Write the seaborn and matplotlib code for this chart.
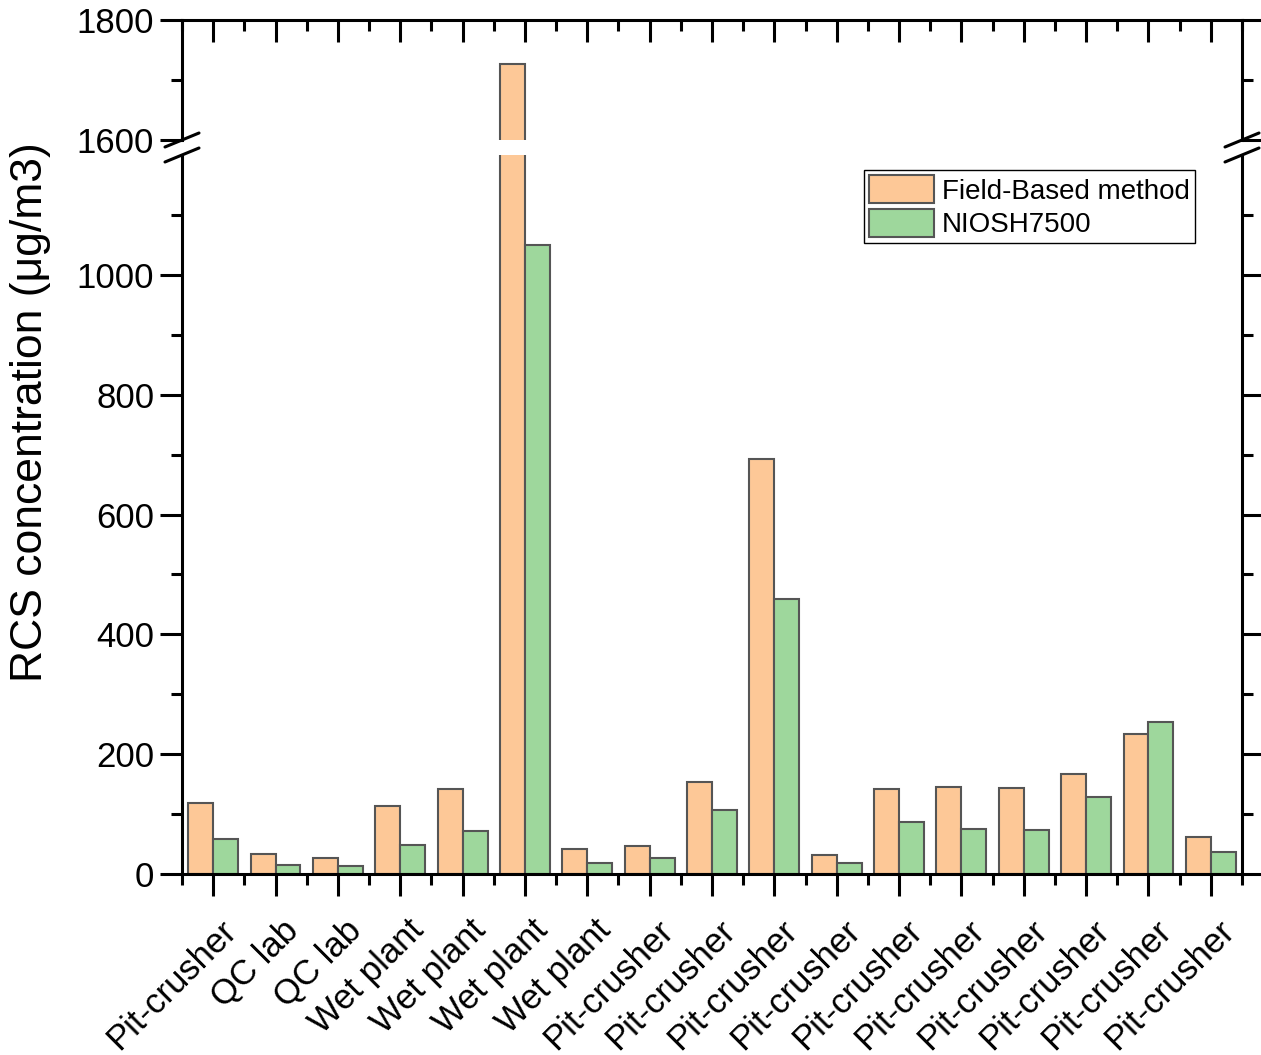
import matplotlib
matplotlib.use("Agg")
import matplotlib.pyplot as plt
import matplotlib.transforms as mtransforms
import seaborn as sns
import pandas as pd
from matplotlib.lines import Line2D

# ---------------- data ----------------
locations = ["Pit-crusher", "QC lab", "QC lab", "Wet plant", "Wet plant", "Wet plant",
             "Wet plant", "Pit-crusher", "Pit-crusher", "Pit-crusher", "Pit-crusher",
             "Pit-crusher", "Pit-crusher", "Pit-crusher", "Pit-crusher", "Pit-crusher",
             "Pit-crusher"]
field_based = [118, 33, 27, 113, 142, 1727, 41, 46, 154, 692, 32, 142, 146, 143, 167, 234, 62]
niosh7500 = [59, 15, 14, 48, 72, 1049, 19, 26, 106, 459, 18, 87, 75, 74, 129, 253, 36]
methods = ["Field-Based method", "NIOSH7500"]
samples = [f"S{i+1}" for i in range(len(locations))]

df = pd.DataFrame({
    "sample": samples * 2,
    "method": [methods[0]] * len(samples) + [methods[1]] * len(samples),
    "value": field_based + niosh7500,
})

palette = {methods[0]: "#FDC897", methods[1]: "#9ED79C"}
edge = "#555555"

# ---------------- style ----------------
sns.set_style("white")
plt.rcParams["font.family"] = ["Liberation Sans", "DejaVu Sans"]
plt.rcParams["text.color"] = "black"
plt.rcParams["xtick.color"] = "black"
plt.rcParams["ytick.color"] = "black"
plt.rcParams["axes.labelcolor"] = "black"

W, H = 1261, 1055
fig = plt.figure(figsize=(W / 100, H / 100), dpi=100)
L = 182 / W
AW = 1060 / W
ax_lo = fig.add_axes([L, 1 - 874 / H, AW, 719 / H])
ax_hi = fig.add_axes([L, 1 - 140 / H, AW, 120 / H])

for ax in (ax_lo, ax_hi):
    sns.barplot(data=df, x="sample", y="value", hue="method", order=samples,
                hue_order=methods, palette=palette, edgecolor=edge, linewidth=1.5,
                saturation=1, width=0.8, ax=ax, legend=(ax is ax_lo))
    ax.set_xlim(-0.5, len(samples) - 0.5)
    ax.set_xlabel("")
    ax.set_ylabel("")
    for s in ax.spines.values():
        s.set_linewidth(2.2)
        s.set_color("black")

ax_lo.set_ylim(0, 1200)
ax_hi.set_ylim(1600, 1800)

tick_fs = 25
# lower axes
ax_lo.spines["top"].set_visible(False)
ax_lo.set_yticks([0, 200, 400, 600, 800, 1000])
ax_lo.set_yticks([100, 300, 500, 700, 900, 1100], minor=True)
ax_lo.set_xticks(range(len(samples)))
ax_lo.set_xticks([i - 0.5 for i in range(len(samples) + 1)], minor=True)
ax_lo.set_xticklabels(locations, rotation=45, ha="right", va="center",
                      rotation_mode="anchor", fontsize=tick_fs, color="black")
ax_lo.tick_params(axis="x", which="both", direction="out", bottom=True, top=False,
                  width=2.2, pad=21)
ax_lo.tick_params(axis="x", which="major", length=16)
ax_lo.tick_params(axis="x", which="minor", length=8)
ax_lo.tick_params(axis="y", which="both", direction="out", left=True, right=True,
                  labelright=False, width=2.2, labelsize=tick_fs, pad=4)
ax_lo.tick_params(axis="y", which="major", length=16)
ax_lo.tick_params(axis="y", which="minor", length=8)

offset = mtransforms.ScaledTranslation(18 / 100, 0, fig.dpi_scale_trans)
for lab in ax_lo.get_xticklabels():
    lab.set_transform(lab.get_transform() + offset)

# upper axes
ax_hi.spines["bottom"].set_visible(False)
ax_hi.set_yticks([1600, 1800])
ax_hi.set_yticks([1700], minor=True)
ax_hi.set_xticks(range(len(samples)))
ax_hi.set_xticks([i - 0.5 for i in range(len(samples) + 1)], minor=True)
ax_hi.tick_params(axis="x", which="both", direction="in", bottom=False, top=True,
                  labelbottom=False, labeltop=False, width=2.2)
ax_hi.tick_params(axis="x", which="major", length=16)
ax_hi.tick_params(axis="x", which="minor", length=8)
ax_hi.tick_params(axis="y", which="both", direction="out", left=True, right=True,
                  labelright=False, width=2.2, labelsize=tick_fs, pad=4)
ax_hi.tick_params(axis="y", which="major", length=16)
ax_hi.tick_params(axis="y", which="minor", length=8)

# legend
handles, labels = ax_lo.get_legend_handles_labels()
if ax_lo.get_legend() is not None:
    ax_lo.get_legend().remove()
leg = ax_lo.legend(handles, labels, loc="upper right",
                   bbox_to_anchor=((1195 - 182) / 1060, 1 - (170 - 155) / 719),
                   borderaxespad=0, fontsize=20, handlelength=2.35, handleheight=1.2,
                   labelspacing=0.15, borderpad=0.18, handletextpad=0.3,
                   frameon=True, fancybox=False, framealpha=1)
leg.get_frame().set_edgecolor("black")
leg.get_frame().set_linewidth(1.0)
for t in leg.get_texts():
    t.set_color("black")

# y label
fig.text(31 / W, 1 - 412 / H, "RCS concentration (\u03bcg/m3)", rotation=90,
         ha="center", va="center", fontsize=32, color="black")

# break marks
def px(x, y):
    return (x / W, 1 - y / H)

for xc in (182, 1242):
    for yc in (140, 155):
        x0, y0 = px(xc - 17, yc + 7)
        x1, y1 = px(xc + 17, yc - 7)
        fig.add_artist(Line2D([x0, x1], [y0, y1], transform=fig.transFigure,
                              color="black", linewidth=2.2))

fig.savefig("out.png", dpi=100)
